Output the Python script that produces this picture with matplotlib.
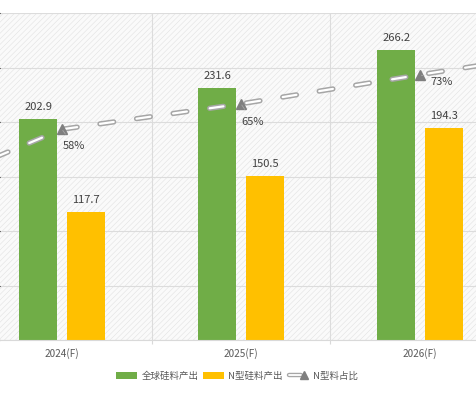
import matplotlib
matplotlib.use("Agg")
import matplotlib.pyplot as plt
import numpy as np
from matplotlib.patches import Patch
from matplotlib.lines import Line2D
from matplotlib.legend_handler import HandlerBase

plt.rcParams['font.family'] = ['Noto Sans CJK SC', 'DejaVu Sans']
plt.rcParams['lines.scale_dashes'] = False
plt.rcParams['hatch.linewidth'] = 0.4

# ---- data ----
categories = ['2024(F)', '2025(F)', '2026(F)']
global_output = [202.9, 231.6, 266.2]      # 全球硅料产出
n_type_output = [117.7, 150.5, 194.3]      # N型硅料产出
# N型料占比 line (the line continues beyond the visible window on both sides)
ratio_positions = [-1, 0, 1, 2, 3]
ratio_values = [37.3, 58, 65, 73, 80.7]
ratio_labels = {0: '58%', 1: '65%', 2: '73%'}

series_names = ['全球硅料产出', 'N型硅料产出', 'N型料占比']
green = '#70ad47'
yellow = '#ffc000'
line_gray = '#a6a6a6'
marker_gray = '#7f7f7f'

W, H = 477, 398
fig = plt.figure(figsize=(W / 100, H / 100), dpi=100)
ax = fig.add_axes([0, 1 - 340 / H, 1, (340 - 13) / H])

x = np.arange(len(categories))
bw = 0.212
off = 0.132
ax.set_axisbelow(True)
ax.bar(x - off, global_output, bw, color=green, zorder=2)
ax.bar(x + off, n_type_output, bw, color=yellow, zorder=2)

for xs, vals in ((x - off, global_output), (x + off, n_type_output)):
    for xi, v in zip(xs, vals):
        ax.annotate(f'{v:.1f}', (xi, v), xytext=(0, 12), textcoords='offset pixels',
                    ha='center', va='center', fontsize=8, color='#404040')

ax.set_xlim(-62 / 179, (477 - 62) / 179)
ax.set_ylim(0, 300)
ax.set_yticks(np.arange(0, 301, 50))
ax.set_xticks(x)
ax.set_xticklabels(categories, fontsize=7.2, color='#595959')
ax.set_xticks([0.5, 1.5], minor=True)
ax.tick_params(axis='x', which='major', length=0, pad=6)
ax.tick_params(axis='x', which='minor', length=3, color='#d9d9d9', width=0.8)
ax.tick_params(axis='y', left=False, labelleft=False)
ax.grid(axis='y', color='#dcdcdc', lw=0.8)
ax.grid(axis='x', which='minor', color='#dcdcdc', lw=0.8)
for s in ('left', 'right', 'top'):
    ax.spines[s].set_visible(False)
ax.spines['bottom'].set_color('#d9d9d9')
ax.spines['bottom'].set_linewidth(0.8)

ax.patch.set_facecolor('#fafafa')
ax.patch.set_hatch('//////')
ax.patch.set_edgecolor('#e2e2e2')

ax2 = ax.twinx()
ax2.set_ylim(0, 90)
ax2.axis('off')
dash = (3.0, (10, 16.6))
ax2.plot(ratio_positions, ratio_values, color=line_gray, lw=3.8,
         linestyle=dash, dash_capstyle='round', zorder=3)
ax2.plot(ratio_positions, ratio_values, color='white', lw=1.6,
         linestyle=dash, dash_capstyle='round', zorder=4)
ax2.plot(ratio_positions, ratio_values, linestyle='none', marker='^',
         markersize=7.5, color=marker_gray, zorder=5)

label_offsets = {0: (12, -17), 1: (12, -18), 2: (22, -7)}
for i, txt in ratio_labels.items():
    ax2.annotate(txt, (ratio_positions[i + 1], ratio_values[i + 1]),
                 xytext=label_offsets[i], textcoords='offset pixels',
                 ha='center', va='center', fontsize=8, color='#404040',
                 arrowprops=dict(arrowstyle='-', color=line_gray, lw=0.6,
                                 shrinkA=4, shrinkB=1), zorder=6)


class CapsuleLineHandler(HandlerBase):
    def create_artists(self, legend, orig_handle, xdescent, ydescent,
                       width, height, fontsize, trans):
        y = height / 2 - ydescent
        x0, x1 = -xdescent + 1, -xdescent + width * 0.62
        outer = Line2D([x0, x1], [y, y], color=line_gray, lw=3.2,
                       solid_capstyle='round', transform=trans)
        inner = Line2D([x0, x1], [y, y], color='white', lw=1.3,
                       solid_capstyle='round', transform=trans)
        mark = Line2D([-xdescent + width * 0.8], [y], color=marker_gray,
                      marker='^', markersize=5.5, linestyle='none', transform=trans)
        return [outer, inner, mark]


h1 = Patch(facecolor=green)
h2 = Patch(facecolor=yellow)
h3 = Line2D([], [], color=line_gray)
fig.legend([h1, h2, h3], series_names,
           loc='center', bbox_to_anchor=(237 / W, 1 - 376 / H),
           ncol=3, frameon=False, fontsize=6.8,
           handlelength=2.2, handleheight=0.75, handletextpad=0.5,
           columnspacing=0.5, labelcolor='#595959',
           handler_map={h3: CapsuleLineHandler()})

fig.savefig('out.png', dpi=100, facecolor='white')
